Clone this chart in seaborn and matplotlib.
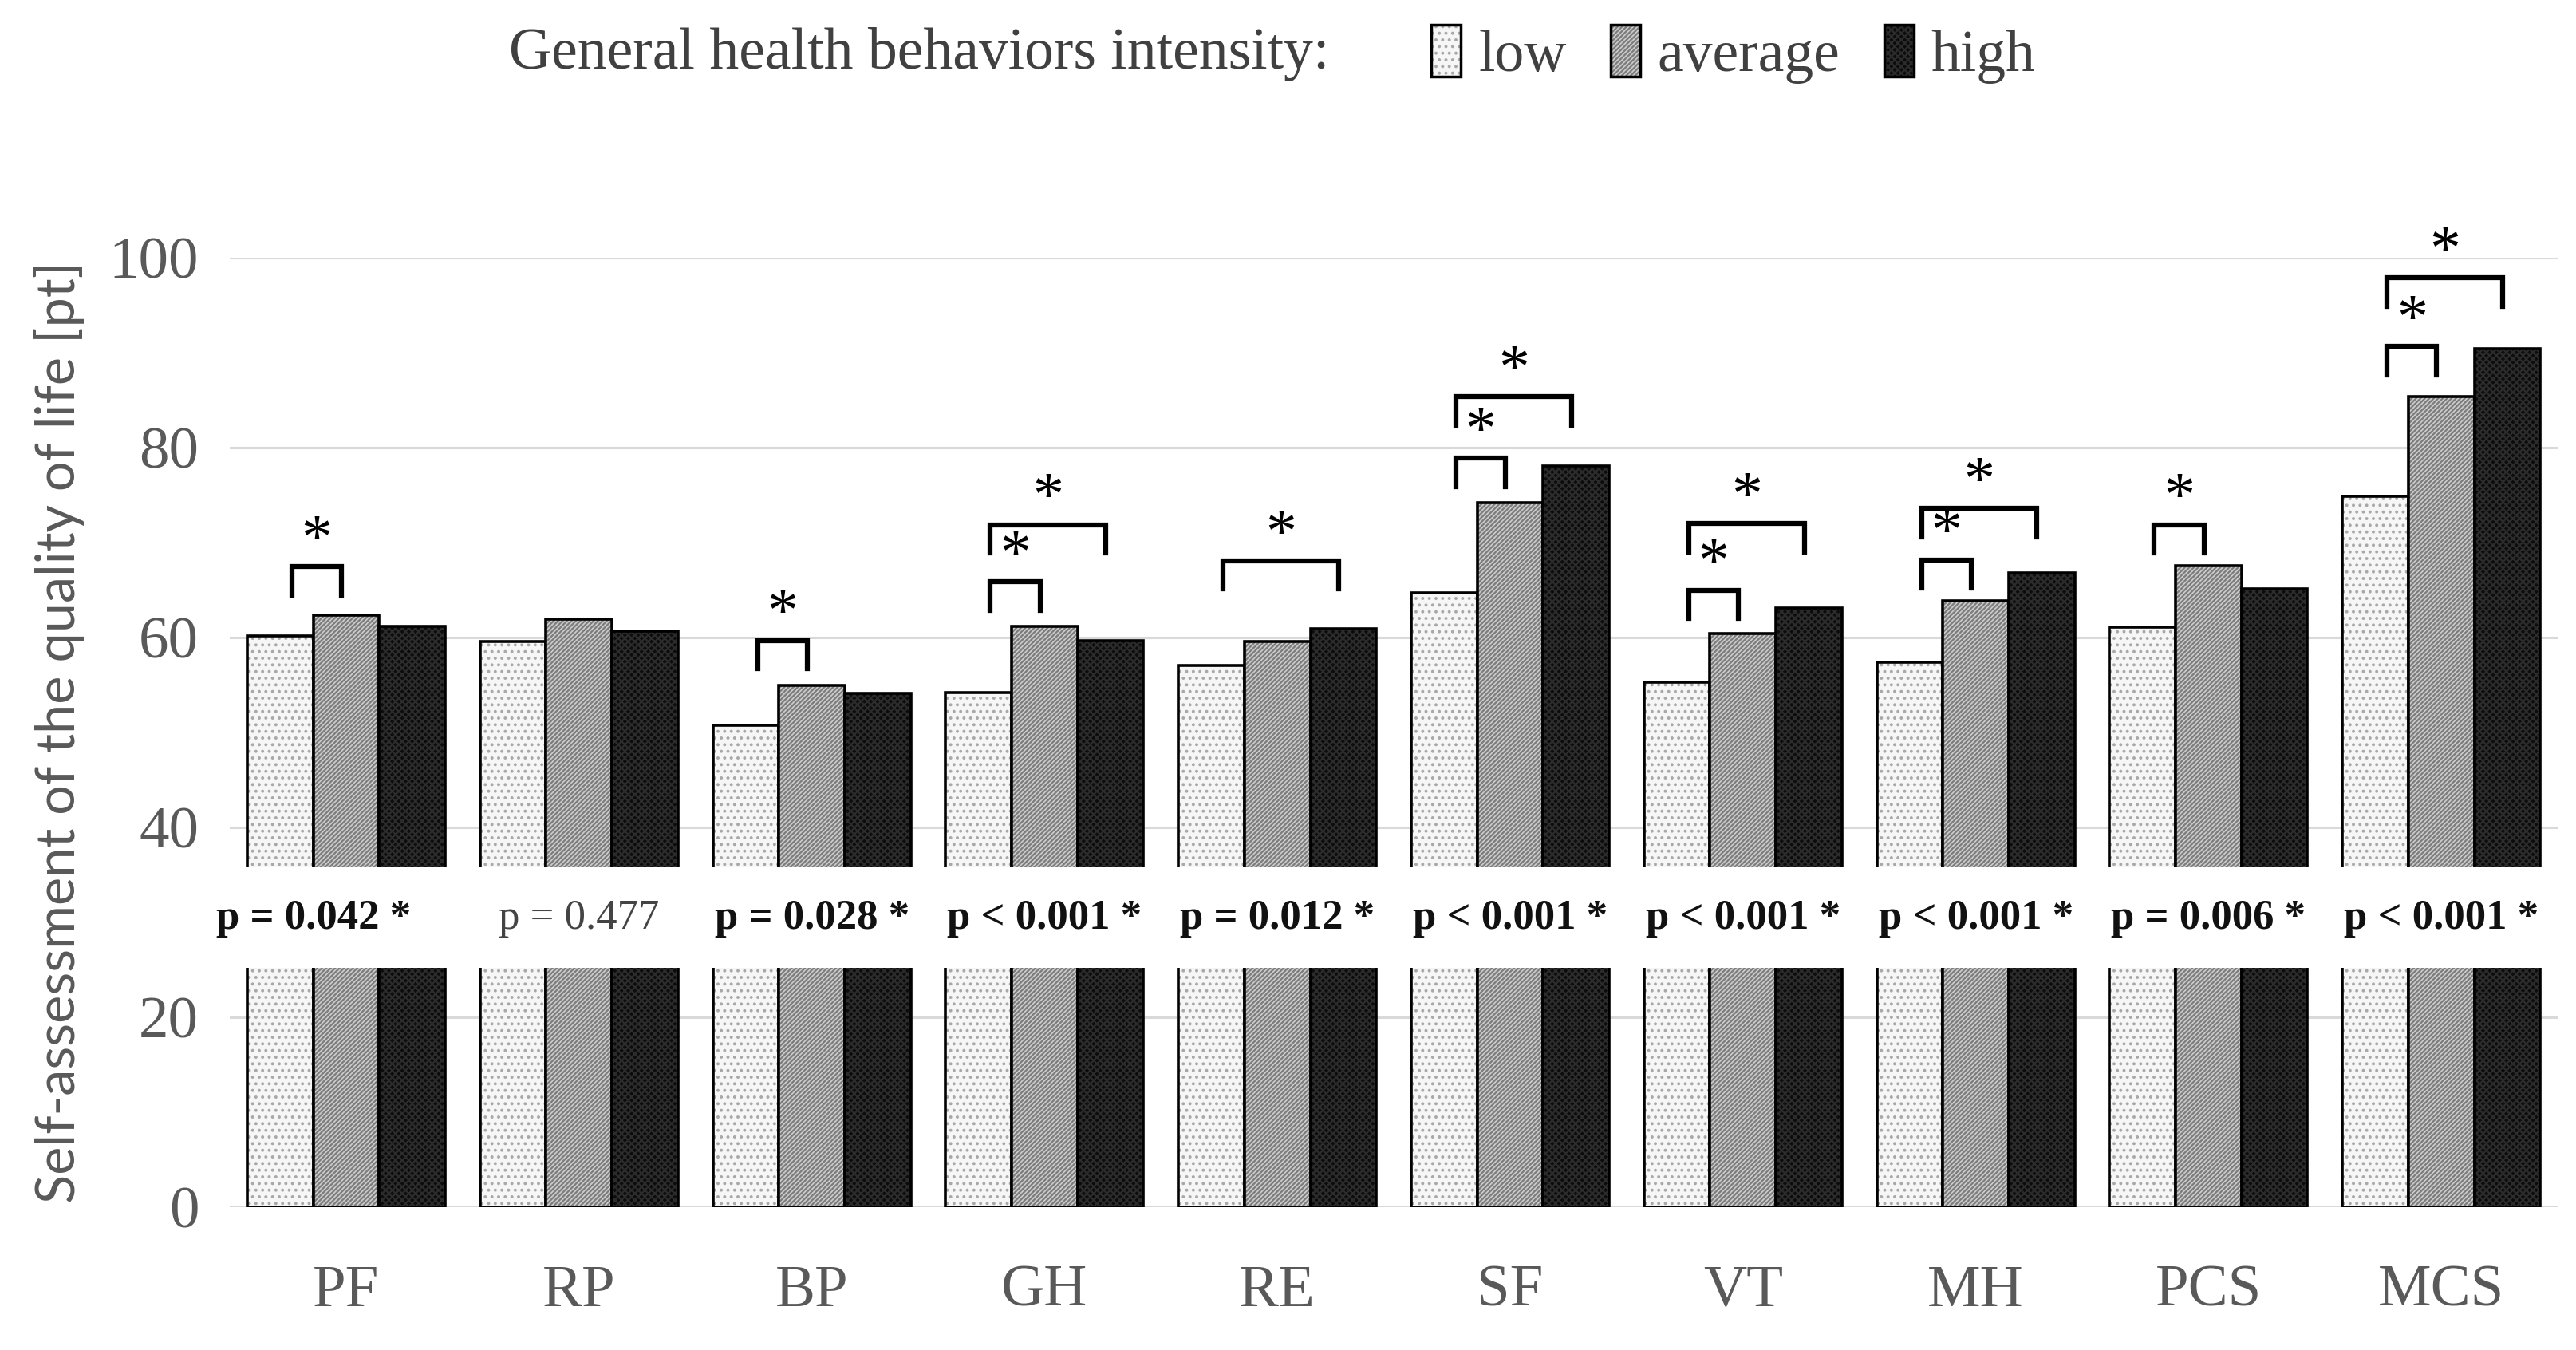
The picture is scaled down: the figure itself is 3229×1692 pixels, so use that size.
import pandas as pd
import seaborn as sns
import matplotlib.pyplot as plt
from matplotlib.patches import Patch
from matplotlib.colors import to_rgba

# Data
scales = ["PF", "RP", "BP", "GH", "RE", "SF", "VT", "MH", "PCS", "MCS"]
levels = ["low", "average", "high"]
low = [60.2, 59.6, 50.8, 54.2, 57.1, 64.7, 55.3, 57.4, 61.1, 74.9]
average = [62.4, 61.9, 55.0, 61.2, 59.6, 74.2, 60.4, 63.9, 67.6, 85.4]
high = [61.2, 60.7, 54.1, 59.7, 60.9, 78.1, 63.1, 66.8, 65.1, 90.4]

p_labels = ["p = 0.042 *", "p = 0.477", "p = 0.028 *", "p < 0.001 *", "p = 0.012 *",
            "p < 0.001 *", "p < 0.001 *", "p < 0.001 *", "p = 0.006 *", "p < 0.001 *"]
p_significant = [True, False, True, True, True, True, True, True, True, True]

# significance brackets: (scale index, compared level index, bracket height)
brackets = [(0, 1, 67.5), (2, 1, 59.7), (3, 1, 65.9), (3, 2, 71.9), (4, 2, 68.1),
            (5, 1, 78.9), (5, 2, 85.4), (6, 1, 65.0), (6, 2, 72.0), (7, 1, 68.2),
            (7, 2, 73.6), (8, 1, 71.9), (9, 1, 90.7), (9, 2, 97.9)]

df = pd.DataFrame({
    "scale": scales * 3,
    "intensity": [lv for lv in levels for _ in scales],
    "score": low + average + high,
})

faces = ["#f6f6f6", "#cdcdcd", "#0c0c0c"]
hatches = ["..", "//////", "xxxx"]
hatch_cols = ["#a8a8a8", "#7c7c7c", "#2c2c2c"]

serif = ["Liberation Serif", "DejaVu Serif"]
plt.rcParams["font.family"] = serif
plt.rcParams["hatch.linewidth"] = 1.6

fig = plt.figure(figsize=(32.3, 16.92), dpi=100)
ax = fig.add_axes([0.0892, 0.1058, 0.9034, 0.7032])

sns.barplot(data=df, x="scale", y="score", hue="intensity", hue_order=levels,
            palette=faces, width=0.85, errorbar=None, edgecolor="black",
            linewidth=2.6, legend=False, ax=ax, zorder=2)

for cont, h, hc in zip(ax.containers, hatches, hatch_cols):
    for p in cont:
        p.set_hatch(h)
        p._hatch_color = to_rgba(hc)

# white band with p-values
ax.axhspan(25.2, 35.8, color="white", zorder=4, lw=0)
for i, (lab, sig) in enumerate(zip(p_labels, p_significant)):
    xt = i - 0.14 if i == 0 else i
    ax.text(xt, 30.4, lab, ha="center", va="center", fontsize=38,
            fontweight="bold" if sig else "normal",
            color="#111111" if sig else "#444444", zorder=5)

# brackets with stars
off = 0.85 / 3
for gi, lv, yb in brackets:
    x0 = gi - off + 0.05
    x1 = gi + (lv - 1) * off - 0.02
    drop = 3.0
    ax.plot([x0, x0, x1, x1], [yb - drop, yb, yb, yb - drop], color="black",
            lw=4.5, solid_joinstyle="miter", clip_on=False, zorder=6)
    ax.text((x0 + x1) / 2, yb + 2.6, "*", ha="center", va="center",
            fontsize=56, clip_on=False, zorder=6)

ax.set_xlim(-0.5, 9.5)
ax.set_ylim(0, 100)
ax.set_yticks([0, 20, 40, 60, 80, 100])
ax.yaxis.grid(True, color="#d9d9d9", lw=2.2)
ax.set_axisbelow(True)
for s in ax.spines.values():
    s.set_visible(False)
ax.tick_params(axis="both", length=0, labelsize=54, colors="#595959")
ax.tick_params(axis="x", pad=52)
ax.tick_params(axis="y", pad=28)
ax.set_xlabel("")
ax.set_ylabel("Self-assessment of the quality of life [pt]", fontsize=48,
              color="#595959", family=["Lato", "DejaVu Sans"], labelpad=22)

# legend on top
fig.text(0.1975, 0.96, "General health behaviors intensity:", fontsize=53,
         color="#404040", ha="left", va="center")
handles = []
for f, h, hc in zip(faces, hatches, hatch_cols):
    hp = Patch(facecolor=f, edgecolor="black", hatch=h, linewidth=2.5)
    hp._hatch_color = to_rgba(hc)
    handles.append(hp)
fig.legend(handles, levels, loc="center left", bbox_to_anchor=(0.535, 0.96),
           ncol=3, frameon=False, fontsize=53, handlelength=0.5, handleheight=1.0,
           handletextpad=0.3, columnspacing=0.75, labelcolor="#404040")

fig.savefig("out.png", dpi=100)
